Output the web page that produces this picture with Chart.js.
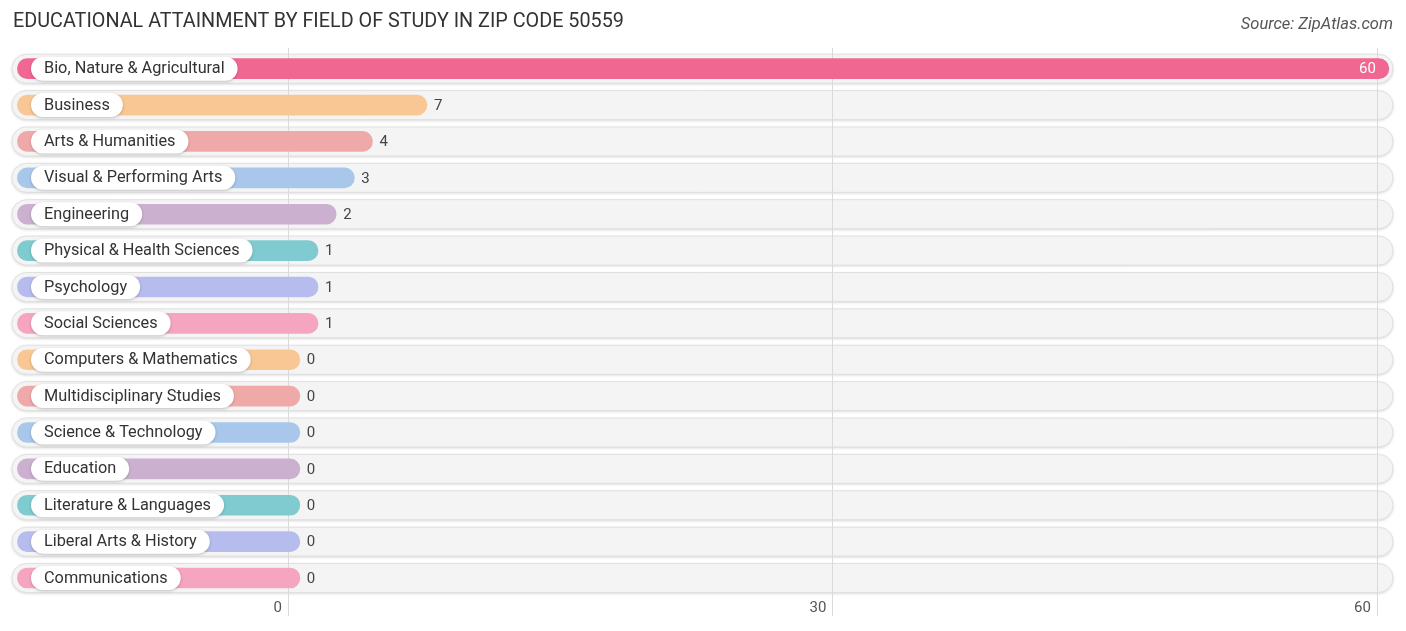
<!DOCTYPE html>
<html lang="en">
<head>
  <meta charset="UTF-8" />
  <title>Educational Attainment by Field of Study in Zip Code 50559</title>
  <script src="https://cdn.jsdelivr.net/npm/chart.js"></script>
  <style>
    html, body { margin: 0; padding: 0; background: #fff; }
    .wrap { position: relative; width: 1406px; height: 631px; font-family: Roboto, "Noto Sans", sans-serif; }
    .title { position: absolute; left: 13px; top: 9px; font-size: 19.8px; color: #333; }
    .source { position: absolute; right: 13px; top: 14px; font-size: 16.5px; color: #555; font-style: italic; }
    #chart { position: absolute; left: 0; top: 0; }
  </style>
</head>
<body>
  <div class="wrap">
    <canvas id="chart" width="1406" height="631"></canvas>
    <div class="title">EDUCATIONAL ATTAINMENT BY FIELD OF STUDY IN ZIP CODE 50559</div>
    <div class="source">Source: ZipAtlas.com</div>
  </div>

  <script>
    const categories = [
      'Bio, Nature & Agricultural', 'Business', 'Arts & Humanities', 'Visual & Performing Arts',
      'Engineering', 'Physical & Health Sciences', 'Psychology', 'Social Sciences',
      'Computers & Mathematics', 'Multidisciplinary Studies', 'Science & Technology', 'Education',
      'Literature & Languages', 'Liberal Arts & History', 'Communications'
    ];
    const values = [60, 7, 4, 3, 2, 1, 1, 1, 0, 0, 0, 0, 0, 0, 0];
    const barColors = [
      '#f06792', '#f9c794', '#f0a9a9', '#a9c7eb', '#cbb0d0', '#7fcbcf', '#b6bdee', '#f5a5c0',
      '#f9c794', '#f0a9a9', '#a9c7eb', '#cbb0d0', '#7fcbcf', '#b6bdee', '#f5a5c0'
    ];
    const tickValues = [0, 30, 60];

    // bars start under the label pill and end a little past their value (rounded cap)
    const BAR_START = -14.9;
    const END_PAD = 0.66;

    function roundRect(ctx, x, y, w, h, r) {
      ctx.beginPath();
      ctx.moveTo(x + r, y);
      ctx.lineTo(x + w - r, y);
      ctx.arc(x + w - r, y + r, r, -Math.PI / 2, Math.PI / 2);
      ctx.lineTo(x + r, y + h);
      ctx.arc(x + r, y + r, r, Math.PI / 2, Math.PI * 1.5);
      ctx.closePath();
    }

    const trackPlugin = {
      id: 'tracks',
      beforeDatasetsDraw(chart) {
        const { ctx, scales: { x, y } } = chart;
        ctx.save();
        categories.forEach((c, i) => {
          const cy = y.getPixelForValue(i);
          ctx.save();
          ctx.shadowColor = 'rgba(0,0,0,0.18)';
          ctx.shadowBlur = 3;
          ctx.shadowOffsetY = 1;
          roundRect(ctx, 12, cy - 14.5, 1381, 29, 14.5);
          ctx.fillStyle = '#f4f4f4';
          ctx.fill();
          ctx.restore();
          roundRect(ctx, 12, cy - 14.5, 1381, 29, 14.5);
          ctx.strokeStyle = '#e0e0e0';
          ctx.lineWidth = 1;
          ctx.stroke();
        });
        tickValues.forEach(v => {
          const px = Math.round(x.getPixelForValue(v)) + 0.5;
          ctx.beginPath();
          ctx.moveTo(px, 48);
          ctx.lineTo(px, 616);
          ctx.strokeStyle = '#dadada';
          ctx.lineWidth = 1;
          ctx.stroke();
        });
        ctx.restore();
      }
    };

    const labelPlugin = {
      id: 'labels',
      afterDatasetsDraw(chart) {
        const { ctx, scales: { x } } = chart;
        const meta = chart.getDatasetMeta(0);
        const maxVal = Math.max(...values);
        ctx.save();
        ctx.textBaseline = 'middle';
        meta.data.forEach((bar, i) => {
          const cy = bar.y;
          ctx.font = '16.3px Roboto';
          const w = ctx.measureText(categories[i]).width;
          ctx.save();
          ctx.shadowColor = 'rgba(0,0,0,0.22)';
          ctx.shadowBlur = 3;
          ctx.shadowOffsetY = 1;
          roundRect(ctx, 31, cy - 12, w + 26, 24, 12);
          ctx.fillStyle = '#ffffff';
          ctx.fill();
          ctx.restore();
          ctx.fillStyle = '#333';
          ctx.textAlign = 'left';
          ctx.fillText(categories[i], 44, cy + 0.5);

          const endPx = x.getPixelForValue(values[i] + END_PAD);
          ctx.font = '15px Roboto';
          if (values[i] === maxVal) {
            ctx.fillStyle = '#ffffff';
            ctx.textAlign = 'right';
            ctx.fillText(String(values[i]), endPx - 13, cy + 1);
          } else {
            ctx.fillStyle = '#444';
            ctx.textAlign = 'left';
            ctx.fillText(String(values[i]), endPx + 7, cy + 1);
          }
        });
        ctx.restore();
      }
    };

    new Chart(document.getElementById('chart').getContext('2d'), {
      type: 'bar',
      data: {
        labels: categories,
        datasets: [{
          data: values.map(v => [BAR_START, v + END_PAD]),
          backgroundColor: barColors,
          borderRadius: 10,
          borderSkipped: false,
          barThickness: 20
        }]
      },
      options: {
        indexAxis: 'y',
        responsive: false,
        animation: false,
        layout: { padding: { left: 12, right: 11, top: 50.5, bottom: 10.8 } },
        plugins: { legend: { display: false }, tooltip: { enabled: false } },
        scales: {
          x: {
            min: -15.2,
            max: 61,
            afterBuildTicks(axis) { axis.ticks = tickValues.map(v => ({ value: v })); },
            grid: { display: false, drawTicks: false },
            border: { display: false },
            ticks: {
              align: 'end',
              labelOffset: -6,
              padding: 3,
              color: '#555',
              font: { family: 'Roboto', size: 15 }
            }
          },
          y: { display: false }
        }
      },
      plugins: [trackPlugin, labelPlugin]
    });
  </script>
</body>
</html>
